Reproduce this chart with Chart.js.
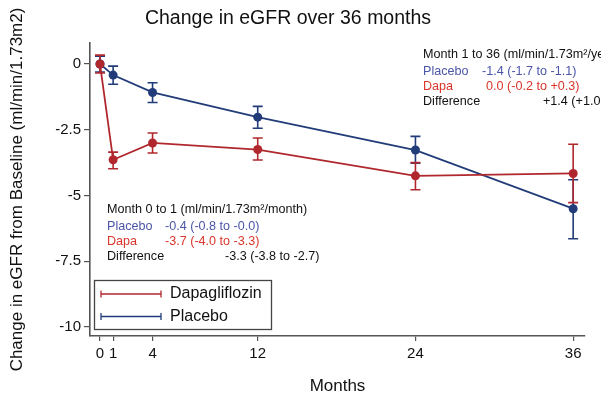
<!DOCTYPE html>
<html>
<head>
<meta charset="utf-8">
<script src="https://cdn.jsdelivr.net/npm/chart.js@4"></script>
<style>
  body { margin: 0; background: #fff; }
  #wrap { width: 601px; height: 397px; }
</style>
</head>
<body>
<div id="wrap"><canvas id="egfrChart"></canvas></div>
<script>
// months of follow-up
var months = [0, 1, 4, 12, 24, 36];

// Dapagliflozin: mean change and 95% CI
var dapaMean = [0, -3.64, -3.0, -3.25, -4.25, -4.16];
var dapaLow  = [-0.34, -3.98, -3.38, -3.65, -4.78, -5.27];
var dapaHigh = [0.34, -3.35, -2.62, -2.81, -3.75, -3.05];

// Placebo: mean change and 95% CI
var placeboMean = [0, -0.42, -1.08, -2.02, -3.27, -5.5];
var placeboLow  = [-0.3, -0.77, -1.46, -2.44, -3.77, -6.64];
var placeboHigh = [0.3, -0.08, -0.71, -1.61, -2.75, -4.4];

var xTicks = [0, 1, 4, 12, 24, 36];
var yTicks = [0, -2.5, -5, -7.5, -10];
var yTickLabels = ['0', '-2.5', '-5', '-7.5', '-10'];

var redCol = '#b0282e';
var blueCol = '#223c7a';
var fontFam = '"Liberation Sans", Arial, sans-serif';

function toPoints(xs, ys){
	var out = [];
	for (var i in xs) out.push({x: xs[i], y: ys[i]});
	return out;
}

// error bars, title, annotations and boxed legend
var extrasPlugin = {
	id: 'extras',
	beforeDatasetsDraw: function(chart){
		var ctx = chart.ctx, xs = chart.scales.x, ys = chart.scales.y;
		var bars = [[placeboLow, placeboHigh, blueCol], [dapaLow, dapaHigh, redCol]];
		ctx.save();
		ctx.lineWidth = 1.6;
		for (var b = 0; b < bars.length; b++){
			ctx.strokeStyle = bars[b][2];
			for (var i = 0; i < months.length; i++){
				var px = xs.getPixelForValue(months[i]);
				var lo = ys.getPixelForValue(bars[b][0][i]);
				var hi = ys.getPixelForValue(bars[b][1][i]);
				ctx.beginPath();
				ctx.moveTo(px, lo); ctx.lineTo(px, hi);
				ctx.moveTo(px - 5, lo); ctx.lineTo(px + 5, lo);
				ctx.moveTo(px - 5, hi); ctx.lineTo(px + 5, hi);
				ctx.stroke();
			}
		}
		ctx.restore();
	},
	afterDraw: function(chart){
		var ctx = chart.ctx;
		ctx.save();
		// title
		ctx.fillStyle = '#111';
		ctx.font = '19.5px ' + fontFam;
		ctx.textAlign = 'center';
		ctx.textBaseline = 'middle';
		ctx.fillText('Change in eGFR over 36 months', 288, 19);

		// annotations
		ctx.textAlign = 'left';
		ctx.font = '12.6px ' + fontFam;
		var notes = [
			['Month 0 to 1 (ml/min/1.73m\u00b2/month)', 107, 210, '#111'],
			['Placebo', 107, 227, '#4b55a8'], ['-0.4 (-0.8 to -0.0)', 165, 227, '#4b55a8'],
			['Dapa', 107, 242, '#d9352b'], ['-3.7 (-4.0 to -3.3)', 165, 242, '#d9352b'],
			['Difference', 107, 257, '#111'], ['-3.3 (-3.8 to -2.7)', 225, 257, '#111'],
			['Month 1 to 36 (ml/min/1.73m\u00b2/year)', 423, 55, '#111'],
			['Placebo', 423, 72, '#4b55a8'], ['-1.4 (-1.7 to -1.1)', 482, 72, '#4b55a8'],
			['Dapa', 423, 87, '#d9352b'], ['0.0 (-0.2 to +0.3)', 486, 87, '#d9352b'],
			['Difference', 423, 102, '#111'], ['+1.4 (+1.0 to +1.8)', 543, 102, '#111']
		];
		for (var n = 0; n < notes.length; n++){
			ctx.fillStyle = notes[n][3];
			ctx.fillText(notes[n][0], notes[n][1], notes[n][2]);
		}

		// legend box
		ctx.strokeStyle = '#444';
		ctx.lineWidth = 1.3;
		ctx.strokeRect(94.5, 280.5, 177, 49);
		ctx.font = '16px ' + fontFam;
		var ds = chart.data.datasets;
		for (var d = 0; d < ds.length; d++){
			var ly = 294 + d * 22.5;
			ctx.strokeStyle = ds[d].borderColor;
			ctx.lineWidth = 1.3;
			ctx.beginPath();
			ctx.moveTo(101, ly); ctx.lineTo(161, ly);
			ctx.moveTo(101, ly - 3.5); ctx.lineTo(101, ly + 3.5);
			ctx.moveTo(161, ly - 3.5); ctx.lineTo(161, ly + 3.5);
			ctx.stroke();
			ctx.fillStyle = '#111';
			ctx.fillText(ds[d].label, 170, ly);
		}
		ctx.restore();
	}
};

var chartdata = {
	datasets: [
		{
			label: 'Dapagliflozin',
			data: toPoints(months, dapaMean),
			borderColor: redCol,
			backgroundColor: redCol,
			borderWidth: 1.8,
			pointRadius: 4.5,
			pointBorderWidth: 0
		},
		{
			label: 'Placebo',
			data: toPoints(months, placeboMean),
			borderColor: blueCol,
			backgroundColor: blueCol,
			borderWidth: 1.8,
			pointRadius: 4.5,
			pointBorderWidth: 0
		}
	]
};

var ctx = document.getElementById('egfrChart');

var lineGraph = new Chart(ctx, {
	type: 'line',
	data: chartdata,
	plugins: [extrasPlugin],
	options: {
		responsive: true,
		maintainAspectRatio: false,
		animation: false,
		layout: { padding: { top: 43, right: 16, left: 0, bottom: 0 } },
		plugins: {
			legend: { display: false },
			title: { display: false },
			tooltip: { enabled: false }
		},
		scales: {
			x: {
				type: 'linear',
				min: -0.76,
				max: 36.9,
				afterBuildTicks: function(axis){
					axis.ticks = xTicks.map(function(v){ return {value: v}; });
				},
				afterFit: function(axis){ axis.height = 61; },
				ticks: {
					color: '#111',
					font: { size: 15, family: fontFam },
					padding: 4,
					maxRotation: 0,
					autoSkip: false
				},
				grid: { drawOnChartArea: false, tickLength: 5, color: '#555', lineWidth: 1.2 },
				border: { color: '#555', width: 1.6 },
				title: {
					display: true,
					text: 'Months',
					color: '#111',
					font: { size: 17, family: fontFam },
					padding: { top: 0, bottom: 0 }
				}
			},
			y: {
				min: -10.34,
				max: 0.8,
				afterBuildTicks: function(axis){
					axis.ticks = yTicks.map(function(v){ return {value: v}; });
				},
				afterFit: function(axis){ axis.width = 90; },
				ticks: {
					color: '#111',
					font: { size: 15, family: fontFam },
					padding: 3,
					autoSkip: false,
					callback: function(value){
						var i = yTicks.indexOf(value);
						return i >= 0 ? yTickLabels[i] : '';
					}
				},
				grid: { drawOnChartArea: false, tickLength: 6, color: '#555', lineWidth: 1.2 },
				border: { color: '#555', width: 1.6 },
				title: {
					display: true,
					text: 'Change in eGFR from Baseline (ml/min/1.73m2)',
					color: '#111',
					font: { size: 17, family: fontFam },
					padding: { top: 7, bottom: 0 }
				}
			}
		}
	}
});
</script>
</body>
</html>
